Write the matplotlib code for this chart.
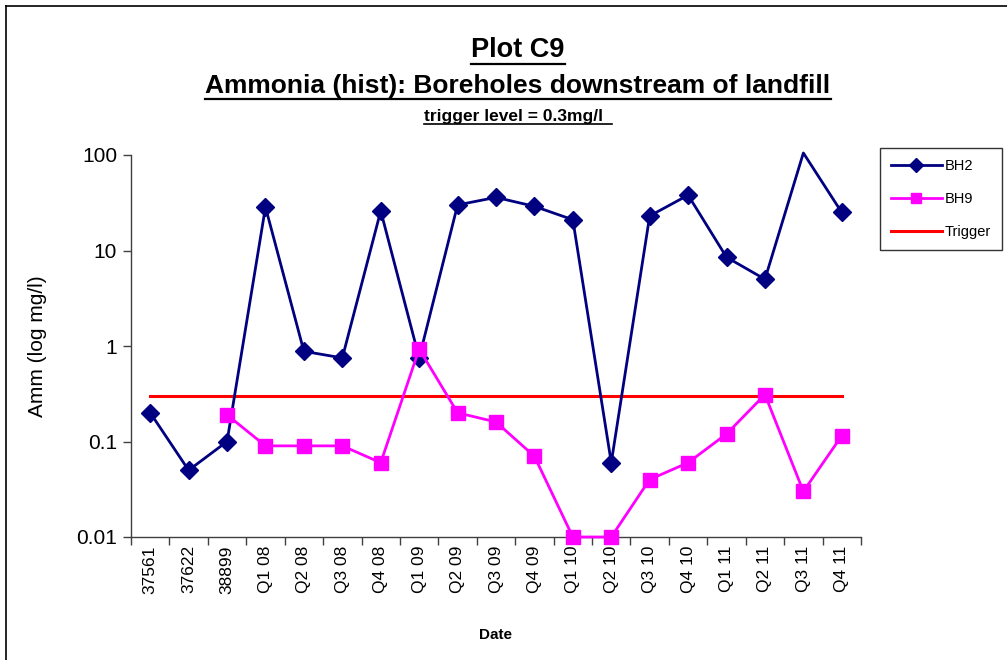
import matplotlib
matplotlib.use("Agg")
import matplotlib.pyplot as plt
from matplotlib.lines import Line2D
from matplotlib.ticker import FixedLocator, NullFormatter, FixedFormatter
import numpy as np

categories = ["37561", "37622", "38899", "Q1 08", "Q2 08", "Q3 08", "Q4 08",
              "Q1 09", "Q2 09", "Q3 09", "Q4 09", "Q1 10", "Q2 10", "Q3 10",
              "Q4 10", "Q1 11", "Q2 11", "Q3 11", "Q4 11"]
bh2 = [0.2, 0.05, 0.1, 28.5, 0.88, 0.75, 26, 0.75, 30, 36, 29, 21, 0.06,
       23, 38, 8.5, 5, 105, 25]
bh9 = [np.nan, np.nan, 0.19, 0.09, 0.09, 0.09, 0.06, 0.93, 0.2, 0.16, 0.07,
       0.01, 0.01, 0.04, 0.06, 0.12, 0.31, 0.03, 0.115]
trigger = [0.3] * len(categories)
yticks = [0.01, 0.1, 1, 10, 100]
ytick_labels = ["0.01", "0.1", "1", "10", "100"]

plt.rcParams['font.family'] = ['Liberation Sans', 'DejaVu Sans']

W, H = 1007, 660
fig = plt.figure(figsize=(W / 100, H / 100), dpi=100)
ax = fig.add_axes([131 / W, 1 - 537 / H, 730 / W, 382 / H])

x = np.arange(len(categories))
ax.plot(x, trigger, color='#FF0000', lw=2.2, label='Trigger', zorder=2)
mk2 = [i for i, v in enumerate(bh2) if v <= 100]
ax.plot(x, bh2, color='#000080', lw=2.0, marker='D', markersize=9.5,
        markevery=mk2, label='BH2', zorder=3, clip_on=False)
ax.plot(x, bh9, color='#FF00FF', lw=2.0, marker='s', markersize=10.5,
        label='BH9', zorder=4, clip_on=False)

ax.set_yscale('log')
ax.set_ylim(0.01, 100)
ax.set_xlim(-0.5, len(categories) - 0.5)

ax.yaxis.set_major_locator(FixedLocator(yticks))
ax.yaxis.set_major_formatter(FixedFormatter(ytick_labels))
ax.yaxis.set_minor_locator(FixedLocator([]))
ax.tick_params(axis='y', which='major', length=6, width=1, color='#404040',
               labelsize=15, pad=4)

ax.set_xticks(x)
ax.set_xticklabels(categories, rotation=90, fontsize=12.5)
ax.xaxis.set_minor_locator(FixedLocator(np.arange(-0.5, len(categories), 1.0)))
ax.xaxis.set_minor_formatter(NullFormatter())
ax.tick_params(axis='x', which='major', length=0, pad=6)
ax.tick_params(axis='x', which='minor', length=6, width=1, color='#404040')

for s in ['top', 'right']:
    ax.spines[s].set_visible(False)
for s in ['left', 'bottom']:
    ax.spines[s].set_color('#404040')
    ax.spines[s].set_linewidth(1)

ax.set_ylabel('Amm (log mg/l)', fontsize=15, labelpad=21)
fig.text(496 / W, 1 - 635 / H, 'Date', fontsize=11, fontweight='bold',
         ha='center', va='center')

# legend
handles, labels = ax.get_legend_handles_labels()
order = [1, 2, 0]
leg = ax.legend([handles[i] for i in order], [labels[i] for i in order],
                loc='upper left', bbox_to_anchor=(880 / W, 1 - 148 / H),
                bbox_transform=fig.transFigure, fontsize=10.5, frameon=True,
                fancybox=False, edgecolor='black', handlelength=3.5,
                labelspacing=1.3, borderpad=0.75, handletextpad=0.2,
                borderaxespad=0, markerscale=0.75)
leg.get_frame().set_linewidth(1)

# titles with underline
titles = [("Plot C9", 50, 19.5),
          ("Ammonia (hist): Boreholes downstream of landfill", 86, 19),
          ("trigger level = 0.3mg/l  ", 116, 12.5)]
cx = 518 / W
texts = []
for t, yy, fs in titles:
    tx = fig.text(cx, 1 - yy / H, t, fontsize=fs, fontweight='bold',
                  ha='center', va='center')
    texts.append(tx)

fig.canvas.draw()
r = fig.canvas.get_renderer()
for tx in texts:
    bb = tx.get_window_extent(r)
    y0 = bb.y0 - 0.5
    fig.add_artist(Line2D([bb.x0 / W, bb.x1 / W], [y0 / H, y0 / H],
                          transform=fig.transFigure, color='black',
                          lw=1.6 if tx.get_fontsize() > 14 else 1.2))

# outer border (left and top)
fig.add_artist(Line2D([5.5 / W, 5.5 / W], [0, 1 - 6 / H], transform=fig.transFigure,
                      color='black', lw=1.2))
fig.add_artist(Line2D([5.5 / W, 1], [1 - 6 / H, 1 - 6 / H], transform=fig.transFigure,
                      color='black', lw=1.2))

fig.savefig('out.png', dpi=100)
